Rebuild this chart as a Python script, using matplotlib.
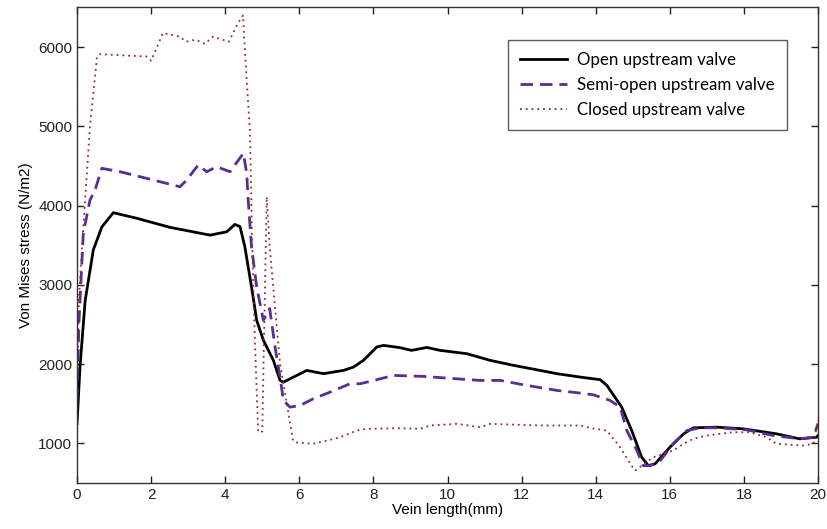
import matplotlib
matplotlib.use("Agg")
import matplotlib.pyplot as plt

# Open upstream valve (solid black)
open_x = [0.0, 0.04, 0.08, 0.22, 0.44, 0.67, 0.98, 1.61, 2.51, 3.59, 4.04, 4.26, 4.40, 4.53,
          4.71, 4.85, 5.03, 5.30, 5.48, 5.57, 5.93, 6.20, 6.65, 7.19, 7.46, 7.73, 8.09, 8.27,
          8.72, 9.03, 9.44, 9.80, 10.52, 11.15, 11.78, 12.50, 12.95, 13.58, 14.12, 14.30,
          14.70, 14.97, 15.24, 15.42, 15.60, 16.00, 16.37, 16.63, 17.27, 17.98, 18.88, 19.50,
          19.96, 20.0]
open_y = [1250, 1600, 1960, 2800, 3440, 3730, 3910, 3840, 3725, 3627, 3669, 3762, 3735, 3480,
          2973, 2552, 2300, 2047, 1794, 1772, 1857, 1920, 1879, 1920, 1962, 2047, 2215, 2236,
          2207, 2173, 2210, 2173, 2131, 2047, 1984, 1920, 1879, 1836, 1803, 1731,
          1457, 1162, 824, 719, 741, 951, 1120, 1196, 1204, 1183, 1120, 1057,
          1077, 1100]

# Semi-open upstream valve (purple dashed)
semi_x = [0.0, 0.05, 0.17, 0.35, 0.49, 0.67, 1.16, 2.06, 2.78, 2.96, 3.27, 3.50, 3.77, 4.13,
          4.49, 4.58, 4.62, 4.71, 4.85, 5.03, 5.20, 5.35, 5.48, 5.57, 5.75, 6.02, 6.38, 6.83,
          7.37, 7.64, 8.09, 8.54, 9.34, 9.98, 10.88, 11.42, 12.14, 12.95, 13.58, 13.93,
          14.39, 14.66, 14.84, 15.11, 15.28, 15.47, 15.74, 16.09, 16.46, 16.82, 17.35, 18.07,
          18.79, 19.50, 19.87, 20.0]
semi_y = [1540, 2500, 3650, 4069, 4200, 4470, 4427, 4322, 4237, 4322, 4512, 4427, 4490, 4427,
          4660, 4407, 4069, 3479, 2973, 2552, 2700, 2200, 1836, 1541, 1457, 1478, 1563, 1646,
          1752, 1752, 1803, 1857, 1845, 1823, 1794, 1794, 1731, 1668, 1634, 1613,
          1541, 1457, 1162, 909, 719, 719, 782, 994, 1162, 1196, 1196, 1170,
          1099, 1057, 1077, 1250]

# Closed upstream valve (red dotted)
closed_x = [0.0, 0.05, 0.16, 0.35, 0.54, 0.62, 1.90, 2.00, 2.32, 2.78, 2.94, 3.20, 3.45, 3.67,
            4.10, 4.32, 4.48, 4.55, 4.67, 4.72, 4.80, 4.89, 5.00, 5.12, 5.20, 5.48, 5.83,
            5.88, 6.37, 6.75, 7.10, 7.56, 7.82, 8.72, 9.26, 9.53, 10.25, 10.88, 11.15, 12.50,
            13.04, 13.58, 13.93, 14.30, 14.66, 14.93, 15.06, 15.55, 16.09, 16.37, 16.63, 17.00,
            17.71, 18.16, 18.61, 18.88, 19.60, 19.87, 20.0]
closed_y = [1700, 2800, 3650, 5000, 5877, 5910, 5880, 5827, 6177, 6130, 6067, 6093, 6040, 6130,
            6067, 6280, 6400, 5800, 4915, 3650, 2300, 1140, 1150, 4111, 3475, 2007, 1035,
            1014, 994, 1035, 1077, 1162, 1183, 1191, 1183, 1225, 1246, 1204, 1246, 1225,
            1225, 1225, 1187, 1162, 950, 745, 656, 824, 909, 994, 1057, 1099,
            1140, 1140, 1077, 994, 972, 994, 1290]

x_ticks = list(range(0, 21, 2))
y_ticks = [1000, 2000, 3000, 4000, 5000, 6000]

tick_font = ['Liberation Sans', 'DejaVu Sans']
legend_font = ['Lato', 'DejaVu Sans']

fig = plt.figure(figsize=(8.28, 5.29), dpi=100)
ax = fig.add_axes([0.093, 0.087, 0.895, 0.899])

ax.plot(open_x, open_y, color='black', lw=2.0, ls='-', label='Open upstream valve')
ax.plot(semi_x, semi_y, color='#5a2d91', lw=2.0, ls=(0, (4.5, 2.5)), label='Semi-open upstream valve')
ax.plot(closed_x, closed_y, color='#9a2a2a', lw=1.3, ls=(0, (1, 2.2)), label='Closed upstream valve')

ax.set_xlim(0, 20)
ax.set_ylim(500, 6500)
ax.set_xticks(x_ticks)
ax.set_yticks(y_ticks)
ax.tick_params(direction='in', top=True, right=True, length=5, width=1, labelsize=11, colors='#222222')
for lab in ax.get_xticklabels() + ax.get_yticklabels():
    lab.set_family(tick_font)
for s in ax.spines.values():
    s.set_color('#333333')
    s.set_linewidth(1.0)

ax.set_xlabel('Vein length(mm)', fontsize=11, family=tick_font, labelpad=1)
ax.set_ylabel('Von Mises stress (N/m2)', fontsize=11, family=tick_font, labelpad=4)

leg = ax.legend(loc='upper right', bbox_to_anchor=(0.958, 0.932), frameon=True, fancybox=False,
                edgecolor='#333333', prop={'family': legend_font, 'size': 12.2},
                handlelength=2.8, borderpad=0.7, labelspacing=0.55, handletextpad=0.6,
                borderaxespad=0.0)
leg.get_frame().set_linewidth(1.0)

fig.savefig('out.png', dpi=100)
